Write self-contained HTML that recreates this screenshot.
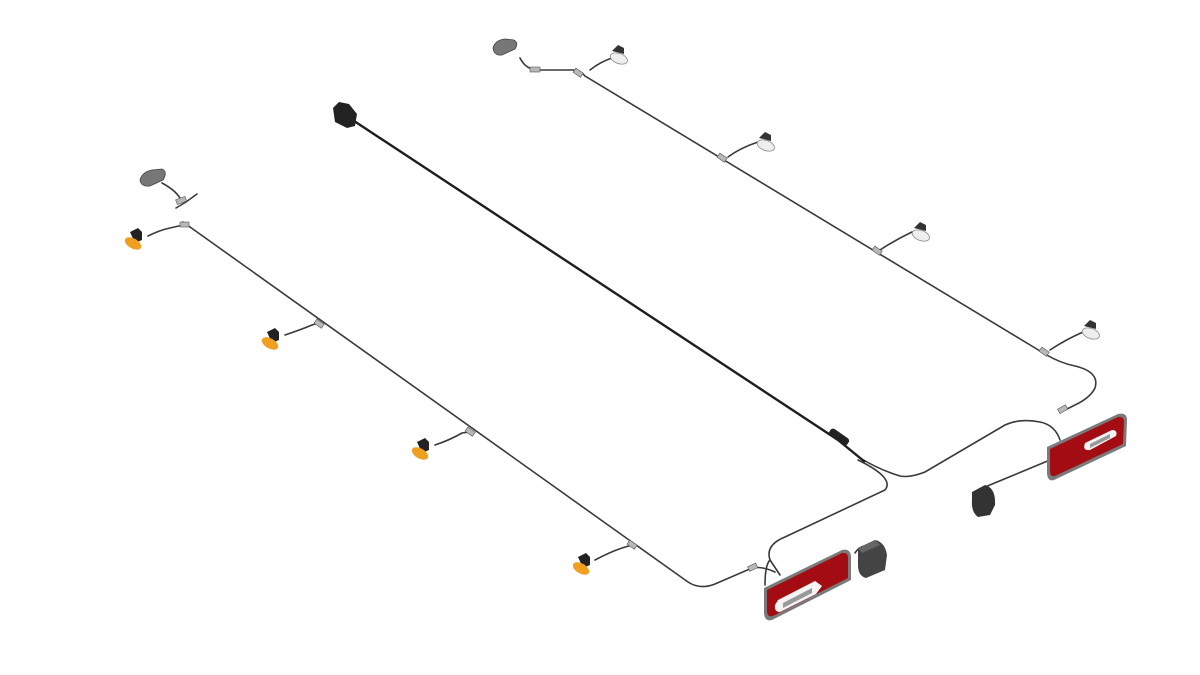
<!DOCTYPE html>
<html><head><meta charset="utf-8"><style>
html,body{margin:0;padding:0;background:#fff;width:1200px;height:675px;overflow:hidden}
</style></head><body>
<svg width="1200" height="675" viewBox="0 0 1200 675" xmlns="http://www.w3.org/2000/svg">
<g fill="none" stroke="#3a3a3a" stroke-width="1.6" stroke-linecap="round">
<!-- left cable -->
<path d="M197,194 L186,202 L176,208 M183,222 L688,582 Q700,590 715,584 L752,568 Q762,566 775,572"/>
<!-- stubs left -->
<path d="M162,183 Q175,190 180,198"/>
<path d="M148,236 Q160,230 170,228 L183,225"/>
<path d="M285,335 Q300,330 312,325 L318,323"/>
<path d="M435,445 Q450,440 462,433 L470,432"/>
<path d="M595,560 Q610,552 622,548 L632,545"/>
<!-- right upper cable -->
<path d="M520,58 Q525,68 535,70 L575,70 Q580,70 585,76 L1045,354 Q1060,363 1075,366 Q1100,372 1095,388 Q1090,398 1075,405 L1065,410"/>
<path d="M612,58 Q600,62 590,70"/>
<path d="M758,142 Q740,148 728,157"/>
<path d="M912,232 Q895,240 880,250"/>
<path d="M1083,332 Q1065,340 1050,350"/>
<!-- main to right tail -->
<path d="M860,458 Q880,470 900,476 Q910,478 925,472 L1005,425 Q1020,418 1040,422 Q1055,425 1060,440"/>
<!-- main to left tail -->
<path d="M858,460 Q895,478 885,490 L785,537 Q765,545 770,560 L780,575"/>
<path d="M770,560 Q765,565 765,585"/>
<path d="M855,553 Q860,545 868,546"/>
<!-- right lamp small -->
<path d="M1050,460 L985,487 Q975,492 978,500"/>
</g>
<!-- main black cable -->
<path d="M345,115 L838,440 L865,462" stroke="#1e1e1e" stroke-width="2.4" fill="none"/>
<!-- plug -->
<g fill="#222"><path d="M333,108 l6,-6 l10,2 l8,10 l-2,12 l-8,2 l-12,-6 z"/></g>
<rect x="828" y="433" width="22" height="8" rx="3" fill="#222" transform="rotate(35 839 437)"/>
<!-- connectors -->
<g fill="#b8b8b8" stroke="#555" stroke-width="0.6">
<rect x="176" y="198" width="10" height="5" transform="rotate(-20 181 200)"/>
<rect x="180" y="222" width="9" height="5"/>
<rect x="315" y="321" width="9" height="5" transform="rotate(35 319 323)"/>
<rect x="466" y="429" width="9" height="5" transform="rotate(35 470 431)"/>
<rect x="628" y="542" width="9" height="5" transform="rotate(35 632 544)"/>
<rect x="748" y="565" width="9" height="5" transform="rotate(-25 752 567)"/>
<rect x="530" y="67" width="10" height="5"/>
<rect x="574" y="70" width="9" height="5" transform="rotate(35 578 72)"/>
<rect x="718" y="155" width="9" height="5" transform="rotate(35 722 157)"/>
<rect x="873" y="248" width="9" height="5" transform="rotate(35 877 250)"/>
<rect x="1040" y="349" width="9" height="5" transform="rotate(35 1044 351)"/>
<rect x="1058" y="407" width="9" height="5" transform="rotate(-30 1062 409)"/>
</g>
<!-- grey top lamps -->
<g fill="#777" stroke="#444" stroke-width="0.8">
<path d="M140,180 Q142,172 152,170 L162,169 Q168,172 163,180 L150,186 Q141,187 140,180 z"/>
<path d="M493,48 Q495,40 505,39 L514,40 Q519,43 515,49 L502,55 Q494,56 493,48 z"/>
</g>
<!-- orange markers -->
<g>
<g transform="translate(135,240)"><path d="M-5,-8 l8,-4 l4,4 l0,8 l-7,3 z" fill="#222"/><ellipse cx="0" cy="4" rx="9" ry="5" fill="#f0a020" transform="rotate(30)"/></g>
<g transform="translate(272,340)"><path d="M-5,-8 l8,-4 l4,4 l0,8 l-7,3 z" fill="#222"/><ellipse cx="0" cy="4" rx="9" ry="5" fill="#f0a020" transform="rotate(30)"/></g>
<g transform="translate(422,450)"><path d="M-5,-8 l8,-4 l4,4 l0,8 l-7,3 z" fill="#222"/><ellipse cx="0" cy="4" rx="9" ry="5" fill="#f0a020" transform="rotate(30)"/></g>
<g transform="translate(583,565)"><path d="M-5,-8 l8,-4 l4,4 l0,8 l-7,3 z" fill="#222"/><ellipse cx="0" cy="4" rx="9" ry="5" fill="#f0a020" transform="rotate(30)"/></g>
</g>
<!-- white markers -->
<g>
<g transform="translate(618,55)"><path d="M-6,-4 l6,-6 l6,3 l0,6 z" fill="#333"/><ellipse cx="2" cy="3" rx="9" ry="5" fill="#eee" stroke="#888" stroke-width="0.8" transform="rotate(20)"/></g>
<g transform="translate(765,142)"><path d="M-6,-4 l6,-6 l6,3 l0,6 z" fill="#333"/><ellipse cx="2" cy="3" rx="9" ry="5" fill="#eee" stroke="#888" stroke-width="0.8" transform="rotate(20)"/></g>
<g transform="translate(920,232)"><path d="M-6,-4 l6,-6 l6,3 l0,6 z" fill="#333"/><ellipse cx="2" cy="3" rx="9" ry="5" fill="#eee" stroke="#888" stroke-width="0.8" transform="rotate(20)"/></g>
<g transform="translate(1090,330)"><path d="M-6,-4 l6,-6 l6,3 l0,6 z" fill="#333"/><ellipse cx="2" cy="3" rx="9" ry="5" fill="#eee" stroke="#888" stroke-width="0.8" transform="rotate(20)"/></g>
</g>
<!-- left tail light -->
<path d="M764,588 L842,550 Q850,548 851,556 L851,580 L772,620 Q764,622 764,612 z" fill="#7a7a7a"/>
<path d="M767,590 L842,553 Q848,552 848,558 L848,578 L773,616 Q767,618 767,610 z" fill="#a30c12"/>
<path d="M778,600 L815,581 L822,586 L816,594 L780,612 Q774,612 775,605 z" fill="#f4f4f4"/>
<path d="M783,603 L812,588 L812,593 L783,608 z" fill="#999"/>
<!-- left small box -->
<path d="M858,548 L875,540 Q885,542 887,555 L885,570 L866,578 Q858,576 858,565 z" fill="#444"/>
<path d="M858,548 L875,540 L880,545 L862,553 z" fill="#666"/>
<!-- right tail light -->
<path d="M1047,447 L1118,414 Q1127,412 1127,420 L1126,446 L1054,480 Q1047,482 1047,472 z" fill="#7a7a7a"/>
<path d="M1050,449 L1118,417 Q1124,416 1124,422 L1123,444 L1055,476 Q1050,478 1050,470 z" fill="#a30c12"/>
<path d="M1085,443 L1112,430 Q1118,430 1116,436 L1090,450 Q1082,451 1085,443 z" fill="#f4f4f4"/>
<path d="M1090,444 L1110,434 L1110,438 L1090,448 z" fill="#999"/>
<!-- right small lamp -->
<path d="M972,492 L985,485 Q996,488 995,505 L990,515 L978,517 Q971,512 972,500 z" fill="#333"/>
</svg>
</body></html>
